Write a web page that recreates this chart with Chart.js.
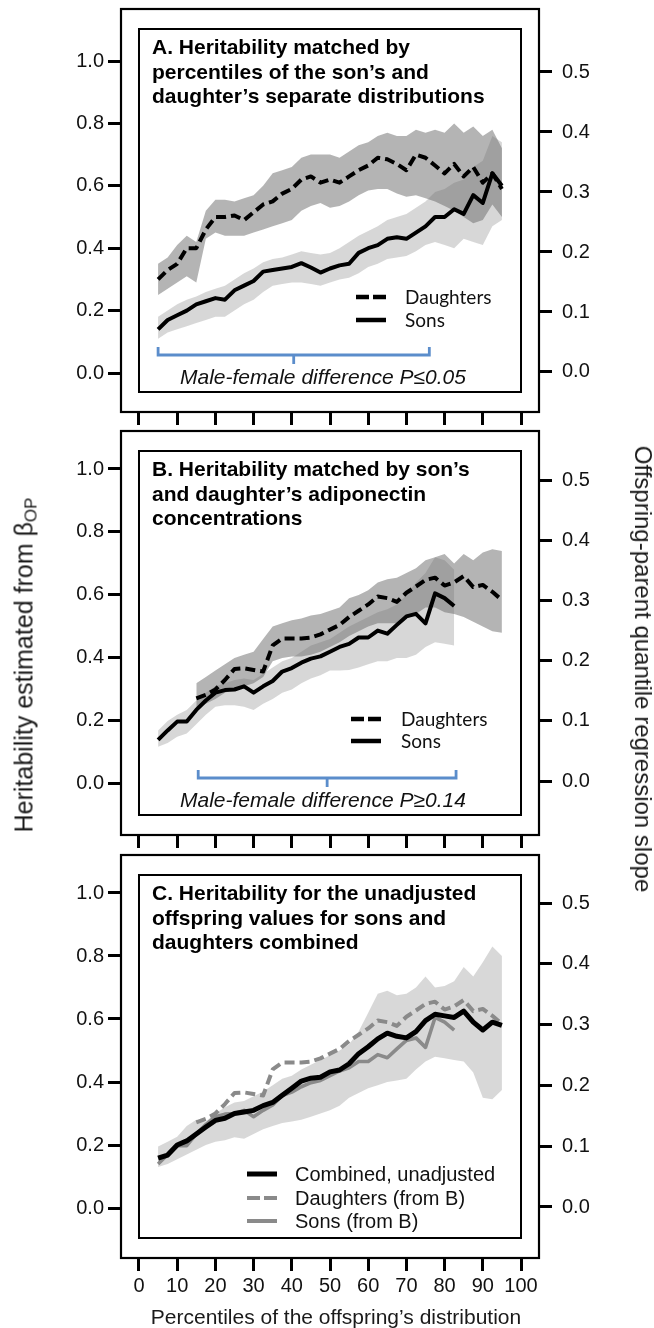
<!DOCTYPE html>
<html><head><meta charset="utf-8">
<script src="https://cdn.jsdelivr.net/npm/chart.js@4.4.1/dist/chart.umd.min.js"></script>
<style>
html,body{margin:0;padding:0;background:#fff;}
body{width:654px;height:1328px;position:relative;overflow:hidden;font-family:"Liberation Sans",Arial,sans-serif;}
canvas{position:absolute;left:0;}
.ttl{position:absolute;white-space:nowrap;line-height:1;color:#1a1a1a;}
.ttl sub{font-size:0.68em;vertical-align:-0.25em;line-height:0;}
</style></head><body>
<canvas id="cA" width="654" height="430" style="top:0px"></canvas>
<canvas id="cB" width="654" height="432" style="top:420px"></canvas>
<canvas id="cC" width="654" height="488" style="top:840px"></canvas>
<div class="ttl" id="yl" style="font-size:25px;left:24px;top:665px;transform:translate(-50%,-50%) rotate(-90deg);">Heritability estimated from β<sub>OP</sub></div>
<div class="ttl" id="yr" style="font-size:24px;left:643px;top:669px;transform:translate(-50%,-50%) rotate(90deg);">Offspring-parent quantile regression slope</div>
<div class="ttl" id="xt" style="font-size:21px;left:336px;top:1316px;transform:translate(-50%,-50%);">Percentiles of the offspring’s distribution</div>
<script>
// ---------- tick labels ----------
const xTicks = [0,10,20,30,40,50,60,70,80,90,100];
const hTicks = [0.0,0.2,0.4,0.6,0.8,1.0];
const sTicks = [0.0,0.1,0.2,0.3,0.4,0.5];

// ---------- percentiles ----------
const pctAll = [5,7.5,10,12.5,15,17.5,20,22.5,25,27.5,30,32.5,35,37.5,40,42.5,45,47.5,50,52.5,55,57.5,60,62.5,65,67.5,70,72.5,75,77.5,80,82.5,85,87.5,90,92.5,95];
const pctBDaughters = [15,17.5,20,22.5,25,27.5,30,32.5,35,37.5,40,42.5,45,47.5,50,52.5,55,57.5,60,62.5,65,67.5,70,72.5,75,77.5,80,82.5,85,87.5,90,92.5,95];
const pctBSons = [5,7.5,10,12.5,15,17.5,20,22.5,25,27.5,30,32.5,35,37.5,40,42.5,45,47.5,50,52.5,55,57.5,60,62.5,65,67.5,70,72.5,75,77.5,80,82.5];

// ---------- Panel A ----------
const aDaughters   = [0.30,0.33,0.35,0.40,0.40,0.46,0.50,0.50,0.505,0.49,0.515,0.54,0.55,0.575,0.59,0.62,0.63,0.61,0.62,0.61,0.63,0.65,0.665,0.69,0.685,0.67,0.65,0.70,0.69,0.665,0.64,0.67,0.63,0.66,0.61,0.64,0.59];
const aDaughtersHi = [0.35,0.37,0.41,0.44,0.42,0.52,0.555,0.555,0.55,0.56,0.57,0.60,0.64,0.65,0.66,0.69,0.70,0.70,0.70,0.69,0.71,0.73,0.74,0.76,0.77,0.76,0.76,0.78,0.77,0.78,0.77,0.80,0.77,0.79,0.76,0.78,0.72];
const aDaughtersLo = [0.25,0.27,0.29,0.31,0.29,0.43,0.45,0.44,0.44,0.44,0.45,0.46,0.47,0.48,0.49,0.52,0.535,0.545,0.53,0.535,0.55,0.57,0.585,0.59,0.59,0.575,0.565,0.57,0.56,0.55,0.535,0.52,0.50,0.48,0.49,0.54,0.50];
const aSons        = [0.14,0.17,0.185,0.20,0.22,0.23,0.24,0.235,0.265,0.28,0.295,0.325,0.33,0.335,0.34,0.352,0.338,0.322,0.335,0.345,0.35,0.385,0.40,0.41,0.43,0.435,0.43,0.45,0.47,0.50,0.50,0.525,0.51,0.57,0.545,0.64,0.60];
const aSonsHi      = [0.18,0.20,0.22,0.235,0.245,0.26,0.27,0.28,0.30,0.32,0.335,0.355,0.365,0.37,0.38,0.39,0.385,0.38,0.385,0.40,0.42,0.44,0.455,0.47,0.49,0.50,0.51,0.53,0.55,0.58,0.59,0.61,0.62,0.66,0.68,0.76,0.74];
const aSonsLo      = [0.11,0.13,0.14,0.15,0.16,0.17,0.18,0.18,0.20,0.22,0.235,0.26,0.28,0.285,0.29,0.29,0.285,0.28,0.29,0.30,0.305,0.32,0.34,0.35,0.365,0.37,0.375,0.39,0.41,0.42,0.41,0.40,0.43,0.42,0.41,0.47,0.49];

// ---------- Panel B ----------
const bDaughters   = [0.272,0.283,0.30,0.33,0.365,0.367,0.362,0.357,0.44,0.462,0.462,0.462,0.465,0.475,0.49,0.505,0.53,0.55,0.57,0.595,0.59,0.578,0.607,0.627,0.648,0.655,0.63,0.64,0.66,0.625,0.632,0.61,0.584];
const bDaughtersHi = [0.32,0.34,0.36,0.38,0.40,0.41,0.42,0.46,0.50,0.51,0.52,0.525,0.535,0.54,0.55,0.56,0.59,0.60,0.615,0.64,0.65,0.655,0.67,0.685,0.71,0.72,0.73,0.70,0.73,0.71,0.735,0.745,0.74];
const bDaughtersLo = [0.24,0.255,0.27,0.29,0.30,0.31,0.32,0.34,0.39,0.40,0.405,0.405,0.41,0.42,0.435,0.45,0.47,0.485,0.50,0.51,0.51,0.51,0.525,0.54,0.56,0.56,0.545,0.54,0.53,0.515,0.50,0.485,0.48];
const bSons        = [0.14,0.17,0.198,0.198,0.235,0.265,0.29,0.298,0.30,0.31,0.29,0.31,0.327,0.357,0.368,0.385,0.398,0.405,0.42,0.435,0.445,0.465,0.465,0.487,0.477,0.505,0.532,0.54,0.51,0.605,0.59,0.565];
const bSonsHi      = [0.17,0.20,0.22,0.235,0.265,0.29,0.31,0.32,0.33,0.335,0.33,0.35,0.37,0.39,0.40,0.42,0.44,0.45,0.46,0.48,0.50,0.515,0.53,0.545,0.555,0.57,0.60,0.64,0.67,0.72,0.71,0.68];
const bSonsLo      = [0.118,0.13,0.15,0.16,0.19,0.22,0.245,0.25,0.25,0.245,0.235,0.255,0.27,0.29,0.30,0.32,0.335,0.345,0.36,0.36,0.362,0.37,0.38,0.39,0.39,0.40,0.40,0.41,0.435,0.45,0.445,0.44];

// ---------- Panel C ----------
const cCombined    = [0.158,0.168,0.20,0.213,0.235,0.257,0.278,0.285,0.30,0.305,0.31,0.325,0.335,0.358,0.38,0.403,0.412,0.415,0.432,0.438,0.458,0.49,0.512,0.537,0.555,0.545,0.54,0.56,0.595,0.615,0.61,0.605,0.625,0.59,0.565,0.59,0.58];
const cCombinedHi  = [0.195,0.21,0.226,0.26,0.28,0.275,0.30,0.32,0.335,0.34,0.355,0.37,0.39,0.41,0.42,0.44,0.455,0.47,0.485,0.50,0.52,0.56,0.62,0.68,0.69,0.675,0.68,0.70,0.735,0.70,0.705,0.72,0.765,0.735,0.78,0.83,0.80];
const cCombinedLo  = [0.13,0.14,0.155,0.17,0.185,0.20,0.21,0.215,0.225,0.22,0.235,0.25,0.26,0.27,0.275,0.28,0.29,0.30,0.31,0.325,0.35,0.365,0.38,0.39,0.40,0.405,0.41,0.44,0.465,0.48,0.475,0.47,0.465,0.43,0.35,0.345,0.375];

// ---------- significance brackets (percentile ranges) ----------
const bracketA = [5, 76];
const bracketB = [15.5, 83];

const pts = (xs, ys) => xs.map((x, i) => ({x: x, y: ys[i]}));

const FONT = '"Liberation Sans", Arial, sans-serif';
const BLACK = '#000';
const GREY_LINE = '#8a8a8a';
const DARK_BAND = 'rgba(105,105,105,0.5)';
const LIGHT_BAND = 'rgba(190,190,190,0.62)';

function lineDs(data, color, width, dash) {
  return {data, borderColor: color, borderWidth: width, borderDash: dash || [], pointRadius: 0, fill: false, tension: 0, borderCapStyle: 'butt', borderJoinStyle: 'round'};
}
function bandDs(data, color, fill) {
  return {data, borderColor: 'rgba(0,0,0,0)', borderWidth: 0, backgroundColor: color, pointRadius: 0, fill: fill, tension: 0};
}

function decoPlugin(spec) {
  return {
    id: 'deco',
    afterDraw(chart) {
      const ctx = chart.ctx, ca = chart.chartArea, xs = chart.scales.x, T = spec.top;
      ctx.save();
      ctx.setLineDash([]);
      const il = xs.getPixelForValue(0), ir = xs.getPixelForValue(100);
      const it = ca.top + 20, ib = ca.bottom - 20;
      ctx.strokeStyle = '#000';
      ctx.lineWidth = 2;
      ctx.strokeRect(il, it, ir - il, ib - it);
      ctx.lineWidth = 2.2;
      ctx.strokeRect(ca.left, ca.top, ca.right - ca.left, ca.bottom - ca.top);
      // panel title
      ctx.fillStyle = '#000';
      ctx.textAlign = 'left';
      ctx.textBaseline = 'alphabetic';
      ctx.font = 'bold 21px ' + FONT;
      spec.title.forEach((t, i) => ctx.fillText(t, il + 13, it + 25 + i * 24.5));
      // legend
      spec.legend.items.forEach(it2 => {
        const y = it2.y - T;
        ctx.beginPath();
        ctx.setLineDash(it2.dash || []);
        ctx.strokeStyle = it2.color;
        ctx.lineWidth = it2.width;
        ctx.lineCap = 'butt';
        ctx.moveTo(spec.legend.x1, y);
        ctx.lineTo(spec.legend.x2, y);
        ctx.stroke();
        ctx.setLineDash([]);
        ctx.font = spec.legend.font;
        ctx.fillStyle = '#111';
        ctx.textBaseline = 'middle';
        ctx.fillText(it2.label, spec.legend.tx, y + 1);
      });
      // significance bracket
      if (spec.bracket) {
        const b = spec.bracket;
        const x1 = xs.getPixelForValue(b.range[0]), x2 = xs.getPixelForValue(b.range[1]);
        const xm = (x1 + x2) / 2;
        const yh = ib - 37;
        ctx.strokeStyle = '#5b8dcb';
        ctx.lineWidth = 2.8;
        ctx.lineCap = 'butt';
        ctx.lineJoin = 'miter';
        ctx.beginPath();
        ctx.moveTo(x1, yh - 8); ctx.lineTo(x1, yh); ctx.lineTo(x2, yh); ctx.lineTo(x2, yh - 8);
        ctx.moveTo(xm, yh); ctx.lineTo(xm, yh + 9);
        ctx.stroke();
        ctx.fillStyle = '#111';
        ctx.font = 'italic 21px ' + FONT;
        ctx.textBaseline = 'alphabetic';
        ctx.textAlign = 'left';
        ctx.fillText(b.text, 180, ib - 8);
      }
      ctx.restore();
    }
  };
}

function makePanel(id, spec) {
  const tickFont = {family: FONT, size: 20};
  const gridCfg = {drawOnChartArea: false, drawTicks: true, tickLength: 13, tickWidth: 3, tickColor: '#000'};
  new Chart(document.getElementById(id), {
    type: 'line',
    data: {datasets: spec.datasets},
    options: {
      responsive: false, animation: false, events: [],
      layout: {autoPadding: false, padding: {top: spec.padTop, left: 0, right: 0, bottom: 0}},
      plugins: {legend: {display: false}, tooltip: {enabled: false}, filler: {propagate: false}},
      scales: {
        x: {
          type: 'linear', position: 'bottom', min: -4.71, max: 104.71,
          afterBuildTicks: s => { s.ticks = xTicks.map(v => ({value: v})); },
          grid: gridCfg, border: {display: false},
          ticks: {display: spec.xLabels, font: tickFont, color: '#111', padding: 3, maxRotation: 0, autoSkip: false},
          afterFit: s => { s.height = spec.xHeight; s.paddingLeft = 0; s.paddingRight = 0; }
        },
        y: {
          type: 'linear', position: 'left', min: spec.yMin, max: spec.yMax,
          afterBuildTicks: s => { s.ticks = hTicks.map(v => ({value: v})); },
          grid: gridCfg, border: {display: false},
          ticks: {font: tickFont, color: '#111', padding: 4, callback: v => v.toFixed(1)},
          afterFit: s => { s.width = 121; s.paddingTop = 0; s.paddingBottom = 0; }
        },
        y2: {
          type: 'linear', position: 'right', min: spec.sMin, max: spec.sMax,
          afterBuildTicks: s => { s.ticks = sTicks.map(v => ({value: v})); },
          grid: gridCfg, border: {display: false},
          ticks: {font: tickFont, color: '#111', padding: 10, callback: v => v.toFixed(1)},
          afterFit: s => { s.width = 115; s.paddingTop = 0; s.paddingBottom = 0; }
        }
      }
    },
    plugins: [decoPlugin(spec)]
  });
}

// Panel A
makePanel('cA', {
  top: 0, padTop: 9, xHeight: 18, xLabels: false,
  yMin: -0.125, yMax: 1.1667, sMin: -0.0667, sMax: 0.605,
  title: ['A. Heritability matched by', 'percentiles of the son’s and', 'daughter’s separate distributions'],
  legend: {x1: 356, x2: 386, tx: 405, font: '19px Lato, "Open Sans", sans-serif', items: [
    {label: 'Daughters', color: BLACK, width: 4.5, dash: [13, 4], y: 297},
    {label: 'Sons', color: BLACK, width: 4.5, y: 320}
  ]},
  bracket: {range: bracketA, text: 'Male-female difference P≤0.05'},
  datasets: [
    lineDs(pts(pctAll, aDaughters), BLACK, 4, [10, 5]),
    lineDs(pts(pctAll, aSons), BLACK, 4),
    bandDs(pts(pctAll, aDaughtersHi), DARK_BAND, '+1'),
    bandDs(pts(pctAll, aDaughtersLo), DARK_BAND, false),
    bandDs(pts(pctAll, aSonsHi), LIGHT_BAND, '+1'),
    bandDs(pts(pctAll, aSonsLo), LIGHT_BAND, false)
  ]
});

// Panel B
makePanel('cB', {
  top: 420, padTop: 11, xHeight: 17, xLabels: false,
  yMin: -0.162, yMax: 1.1206, sMin: -0.0897, sMax: 0.5814,
  title: ['B. Heritability matched by son’s', 'and daughter’s adiponectin', 'concentrations'],
  legend: {x1: 351, x2: 381, tx: 401, font: '19px Lato, "Open Sans", sans-serif', items: [
    {label: 'Daughters', color: BLACK, width: 4.5, dash: [13, 4], y: 719},
    {label: 'Sons', color: BLACK, width: 4.5, y: 741}
  ]},
  bracket: {range: bracketB, text: 'Male-female difference P≥0.14'},
  datasets: [
    lineDs(pts(pctBDaughters, bDaughters), BLACK, 4, [10, 5]),
    lineDs(pts(pctBSons, bSons), BLACK, 4),
    bandDs(pts(pctBDaughters, bDaughtersHi), DARK_BAND, '+1'),
    bandDs(pts(pctBDaughters, bDaughtersLo), DARK_BAND, false),
    bandDs(pts(pctBSons, bSonsHi), LIGHT_BAND, '+1'),
    bandDs(pts(pctBSons, bSonsLo), LIGHT_BAND, false)
  ]
});

// Panel C
makePanel('cC', {
  top: 840, padTop: 15, xHeight: 70, xLabels: true,
  yMin: -0.1587, yMax: 1.1206, sMin: -0.0839, sMax: 0.579,
  title: ['C. Heritability for the unadjusted', 'offspring values for sons and', 'daughters combined'],
  legend: {x1: 247, x2: 277, tx: 295, font: '20px ' + FONT, items: [
    {label: 'Combined, unadjusted', color: BLACK, width: 5, y: 1174},
    {label: 'Daughters (from B)', color: GREY_LINE, width: 4, dash: [13, 4], y: 1198},
    {label: 'Sons (from B)', color: GREY_LINE, width: 4, y: 1221}
  ]},
  datasets: [
    lineDs(pts(pctAll, cCombined), BLACK, 5),
    lineDs(pts(pctBDaughters, bDaughters), GREY_LINE, 4, [10, 5]),
    lineDs(pts(pctBSons, bSons), GREY_LINE, 3.6),
    bandDs(pts(pctAll, cCombinedHi), 'rgba(200,200,200,0.7)', '+1'),
    bandDs(pts(pctAll, cCombinedLo), 'rgba(200,200,200,0.7)', false)
  ]
});
</script>
</body></html>
